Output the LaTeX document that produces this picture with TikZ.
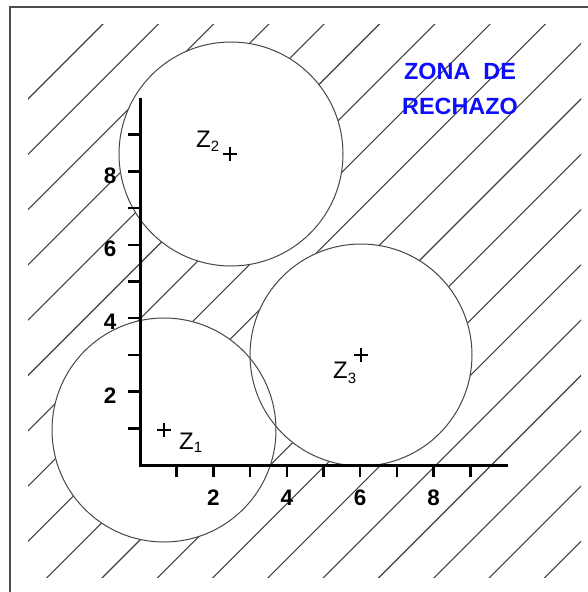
\documentclass[tikz,border=0pt]{standalone}
\usepackage{fontspec}
\setmainfont{Liberation Sans}
\definecolor{framegray}{gray}{0.3}
\definecolor{hatchgray}{gray}{0.25}
\definecolor{zoneblue}{rgb}{0.05,0.05,1}
\begin{document}
\begin{tikzpicture}[x=1bp,y=-1bp,
  hatch/.style={line width=1.1bp,hatchgray},
  region/.style={line width=1bp,gray!55!black},
  axis/.style={line width=3bp,black},
  tickmark/.style={line width=2.5bp,black},
  ticklabel/.style={font=\fontsize{22.5}{22.5}\selectfont\bfseries,inner sep=0pt},
  zlabel/.style={font=\fontsize{24}{24}\selectfont,inner sep=0pt,anchor=base west},
  cross/.style={line width=1.1bp,black},
  zone/.style={font=\fontsize{23.5}{23.5}\selectfont\bfseries,text=zoneblue,inner sep=0pt,anchor=base}]
\useasboundingbox (0,0) rectangle (588,592);
\clip (0,0) rectangle (588,592);
% frame
\draw[line width=1.6bp,framegray] (10,610) -- (10,7) -- (610,7);
% hatching
\begin{scope}
  \clip (28,25) rectangle (581,577);
  \foreach \k in {0,...,18} {
    \draw[hatch] ({127+55.3*\k},0) -- (0,{127+55.3*\k});
  }
\end{scope}
% regions (white discs)
\coordinate (c1) at (164,430);
\coordinate (c2) at (231,154);
\coordinate (c3) at (361,355);
\fill[white] (c1) circle[radius=112];
\fill[white] (c2) circle[radius=112];
\fill[white] (c3) circle[radius=111];
\draw[region] (c1) circle[radius=112];
\draw[region] (c2) circle[radius=112];
\draw[region] (c3) circle[radius=111];
% axes
\coordinate (o) at (140,465);
\coordinate (ytop) at (140,98);
\coordinate (xend) at (508,465);
\draw[axis] (140,466.5) -- (ytop);
\draw[axis] (138.5,465) -- (xend);
\foreach \i in {1,...,9} {
  \draw[tickmark] (128,{465-36.7*\i}) -- (140,{465-36.7*\i});
  \draw[tickmark] ({140+36.7*\i},465) -- ({140+36.7*\i},477);
}
\foreach \i in {2,4,6,8} {
  \node[ticklabel] (yl\i) at (110,{469-36.7*\i}) {\i};
  \node[ticklabel] (xl\i) at ({140+36.7*\i},498) {\i};
}
% centres
\draw[cross] (157,430) -- (171,430) (164,423) -- (164,437);
\draw[cross] (223,154) -- (237,154) (230,147) -- (230,161);
\draw[cross] (354,355) -- (368,355) (361,348) -- (361,362);
\node[zlabel] (z1) at (179,449) {Z\raisebox{-0.3ex}{\fontsize{15}{15}\selectfont 1}};
\node[zlabel] (z2) at (196,148) {Z\raisebox{-0.3ex}{\fontsize{15}{15}\selectfont 2}};
\node[zlabel] (z3) at (333,378) {Z\raisebox{-0.45ex}{\fontsize{15}{15}\selectfont 3}};
% label
\node[zone] (zona) at (460,80) {ZONA\ \ DE};
\node[zone] (rech) at (460,115) {RECHAZO};
\end{tikzpicture}
\end{document}
